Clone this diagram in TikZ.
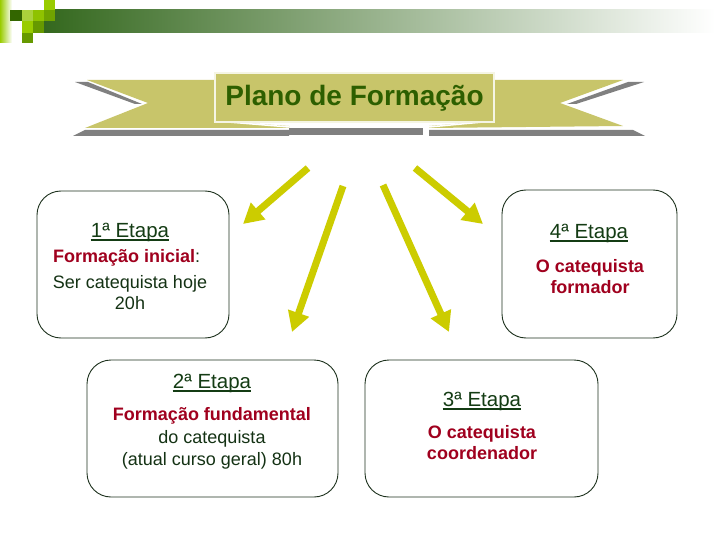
\documentclass[tikz,border=0pt]{standalone}
\usepackage{fontspec}
\setmainfont{Liberation Sans}
\usetikzlibrary{arrows.meta}
\definecolor{khaki}{RGB}{200,197,106}
\definecolor{shadowgray}{RGB}{128,128,128}
\definecolor{boxedge}{RGB}{245,245,228}
\definecolor{titlegreen}{RGB}{45,95,0}
\definecolor{ttlgreen}{RGB}{20,60,20}
\definecolor{bodygreen}{RGB}{20,50,20}
\definecolor{redtxt}{RGB}{160,0,30}
\definecolor{arrowyel}{RGB}{204,204,0}
\definecolor{boxline}{RGB}{30,50,30}
\definecolor{hdrdark}{RGB}{52,104,30}
\definecolor{hdrmid}{RGB}{170,180,160}
\definecolor{sqdark}{RGB}{51,102,0}
\definecolor{sqlight}{RGB}{170,210,60}
\definecolor{sqlime}{RGB}{153,204,0}
\definecolor{sqolive}{RGB}{102,153,0}
\tikzset{
  body/.style={font=\fontsize{18}{21}\selectfont, text=bodygreen, inner sep=0pt, anchor=base},
  rtext/.style={font=\fontsize{18}{21}\selectfont\bfseries, text=redtxt, inner sep=0pt, anchor=base},
  ttl/.style={font=\fontsize{20.5}{24}\selectfont, text=ttlgreen, inner sep=0pt, anchor=base},
  stagebox/.style={draw=boxline, line width=0.9pt, rounded corners=24pt, fill=white, inner sep=0pt},
  arr/.style={draw=arrowyel, line width=7pt, -{Triangle[length=20pt,width=21pt]}},
  uline/.style={draw=ttlgreen, line width=1.4pt},
}
\begin{document}
\begin{tikzpicture}[x=1pt,y=-1pt]
\useasboundingbox (0,0) rectangle (720,540);
\fill[white] (0,0) rectangle (720,540);
% header
\shade[left color=sqlime, right color=white] (0,0) rectangle (12,43);
\shade[left color=hdrdark, middle color=hdrmid, right color=white] (44,10) rectangle (715,33);
\fill[sqdark] (10,10) rectangle (22,21);
\fill[sqlight] (22,10) rectangle (33,21);
\fill[sqlime!80!sqolive] (33,10) rectangle (44,21);
\fill[sqlime] (44,0) rectangle (55,10);
\fill[sqolive!80!sqlime] (44,10) rectangle (55,21);
\fill[sqlime] (22,21) rectangle (33,33);
\fill[sqolive] (33,21) rectangle (44,33);
\fill[sqolive] (22,33) rectangle (33,43);
% banner
\fill[shadowgray] (75,82) -- (88,82) -- (142,104) -- (135,104) -- cycle;
\fill[shadowgray] (567,104) -- (576,104) -- (644,82) -- (628,82) -- cycle;
\fill[khaki] (87,80) -- (216,80) -- (216,121) -- (289,126) -- (289,128) -- (85,128) -- (148,103) -- cycle;
\fill[khaki] (623,80) -- (494,80) -- (494,121) -- (429,126) -- (429,128) -- (623,126) -- (560,103) -- cycle;
\fill[shadowgray] (73,136) -- (85,130) -- (289,130) -- (289,136) -- cycle;
\fill[shadowgray] (289,128) rectangle (423,135);
\fill[shadowgray] (429,130) -- (633,130) -- (645,136) -- (429,136) -- cycle;
\draw[white, line width=1.5pt] (216,121) -- (289,127);
\draw[white, line width=1.5pt] (494,121) -- (429,127);
\node[draw=boxedge, line width=1.8pt, fill=khaki, minimum width=279pt, minimum height=49pt, inner sep=0pt] (title) at (354.5,97.5) {};
\node[anchor=base, font=\fontsize{28}{32}\selectfont\bfseries, text=titlegreen, inner sep=0pt] (ttext) at (354.5,106) {Plano de Formação};
% arrows
\coordinate (a1s) at (308,168); \coordinate (a1e) at (243,224);
\coordinate (a2s) at (343,186); \coordinate (a2e) at (292,332);
\coordinate (a3s) at (383,185); \coordinate (a3e) at (449,332);
\coordinate (a4s) at (415,168); \coordinate (a4e) at (483,224);
\draw[arr] (a1s) -- (a1e);
\draw[arr] (a2s) -- (a2e);
\draw[arr] (a3s) -- (a3e);
\draw[arr] (a4s) -- (a4e);
% boxes
\node[stagebox, minimum width=192pt, minimum height=147pt] (b1) at (133,264.5) {};
\node[stagebox, minimum width=175pt, minimum height=148pt] (b4) at (589.5,264) {};
\node[stagebox, minimum width=251pt, minimum height=137pt] (b2) at (212.5,428.5) {};
\node[stagebox, minimum width=233pt, minimum height=137pt] (b3) at (481.5,428.5) {};
% box 1
\node[ttl] (t1) at (130,237) {1ª Etapa};
\draw[uline] ([yshift=-3pt]t1.base west) -- ([yshift=-3pt]t1.base east);
\node[body, anchor=base west] (l1a) at (53,262) {\textcolor{redtxt}{\bfseries Formação inicial}:};
\node[body] (l1b) at (130,288) {Ser catequista hoje};
\node[body] (l1c) at (130,309) {20h};
% box 4
\node[ttl] (t4) at (589,238) {4ª Etapa};
\draw[uline] ([yshift=-3pt]t4.base west) -- ([yshift=-3pt]t4.base east);
\node[rtext] (l4a) at (590,272) {O catequista};
\node[rtext] (l4b) at (590,293) {formador};
% box 2
\node[ttl] (t2) at (212,388) {2ª Etapa};
\draw[uline] ([yshift=-3pt]t2.base west) -- ([yshift=-3pt]t2.base east);
\node[rtext] (l2a) at (212,420) {Formação fundamental};
\node[body] (l2b) at (212,443) {do catequista};
\node[body] (l2c) at (212,465) {(atual curso geral) 80h};
% box 3
\node[ttl] (t3) at (482,406) {3ª Etapa};
\draw[uline] ([yshift=-3pt]t3.base west) -- ([yshift=-3pt]t3.base east);
\node[rtext] (l3a) at (482,438) {O catequista};
\node[rtext] (l3b) at (482,459) {coordenador};
\end{tikzpicture}
\end{document}
